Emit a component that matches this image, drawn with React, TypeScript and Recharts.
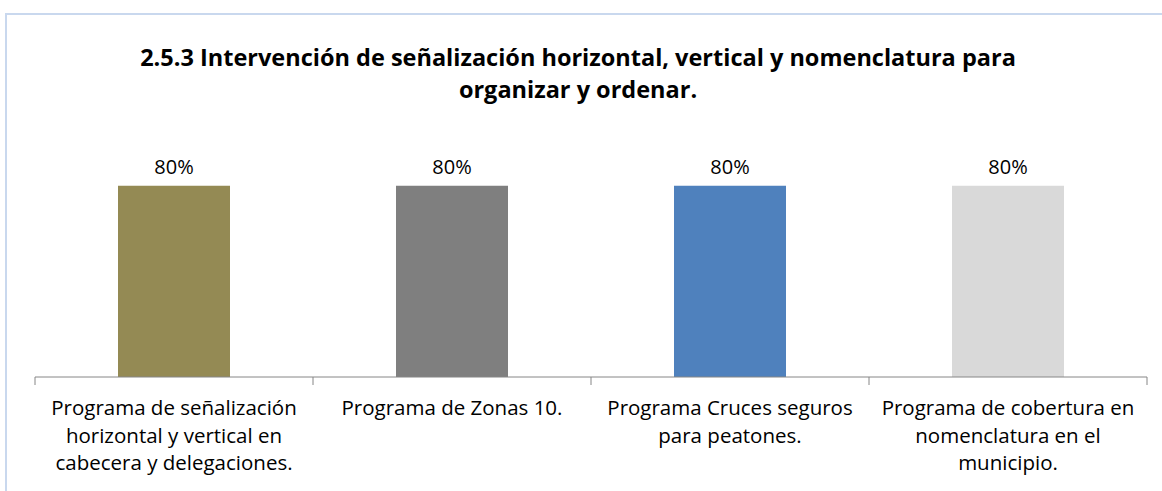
import { Bar, BarChart, Cell, LabelList, XAxis, YAxis, usePlotArea } from 'recharts';

const categories = [
  'Programa de señalización\nhorizontal y vertical en\ncabecera y delegaciones.',
  'Programa de Zonas 10.',
  'Programa Cruces seguros\npara peatones.',
  'Programa de cobertura en\nnomenclatura en el\nmunicipio.',
];
const values = [0.8, 0.8, 0.8, 0.8];
const barColors = ['#948A54', '#7F7F7F', '#4F81BD', '#D9D9D9'];
const titleLines = [
  '2.5.3 Intervención de señalización horizontal, vertical y nomenclatura para',
  'organizar y ordenar.',
];

const data = categories.map((name, i) => ({ name, value: values[i] }));

const FONT = '"Open Sans", sans-serif';

function CategoryTick({ x, y, payload }: any) {
  const lines = String(payload.value).split('\n');
  return (
    <text x={x} y={y + 30} textAnchor="middle" fontFamily={FONT} fontSize={20.5} fill="#000">
      {lines.map((l, i) => (
        <tspan key={i} x={x} dy={i === 0 ? 0 : 27.5}>
          {l}
        </tspan>
      ))}
    </text>
  );
}

// tick marks on category boundaries, like the spreadsheet axis
function BoundaryTicks() {
  const area = usePlotArea();
  if (!area) return null;
  const step = area.width / categories.length;
  const y0 = area.y + area.height;
  return (
    <g>
      {Array.from({ length: categories.length + 1 }, (_, i) => (
        <line key={i} x1={area.x + i * step} x2={area.x + i * step} y1={y0} y2={y0 + 8} stroke="#868686" />
      ))}
    </g>
  );
}

export default function App() {
  return (
    <div style={{ position: 'absolute', left: 0, top: 0, width: 1162, height: 491, background: '#fff', overflow: 'hidden' }}>
      <div
        style={{
          position: 'absolute',
          left: 5,
          top: 13,
          width: 1200,
          height: 600,
          borderTop: '2px solid #C9D8EE',
          borderLeft: '2px solid #C9D8EE',
        }}
      />
      <div
        style={{
          position: 'absolute',
          left: 0,
          width: 1156,
          top: 41,
          textAlign: 'center',
          fontFamily: FONT,
          fontWeight: 'bold',
          fontSize: 23.5,
          lineHeight: '32px',
          color: '#000',
        }}
      >
        {titleLines.map((t, i) => (
          <div key={i}>{t}</div>
        ))}
      </div>
      <div style={{ position: 'absolute', left: 0, top: 0 }}>
        <BarChart width={1162} height={491} data={data} margin={{ top: 138, right: 15, bottom: 0, left: 35 }}>
          <YAxis hide domain={[0, 1]} />
          <XAxis
            dataKey="name"
            height={114}
            interval={0}
            axisLine={{ stroke: '#868686' }}
            tickLine={false}
            tick={<CategoryTick />}
          />
          <Bar dataKey="value" barSize={112} isAnimationActive={false}>
            {data.map((_, i) => (
              <Cell key={i} fill={barColors[i]} />
            ))}
            <LabelList
              dataKey="value"
              position="top"
              offset={12}
              formatter={(v: number) => `${Math.round(v * 100)}%`}
              style={{ fontFamily: FONT, fontSize: 20, fill: '#000' }}
            />
          </Bar>
          <BoundaryTicks />
        </BarChart>
      </div>
    </div>
  );
}
